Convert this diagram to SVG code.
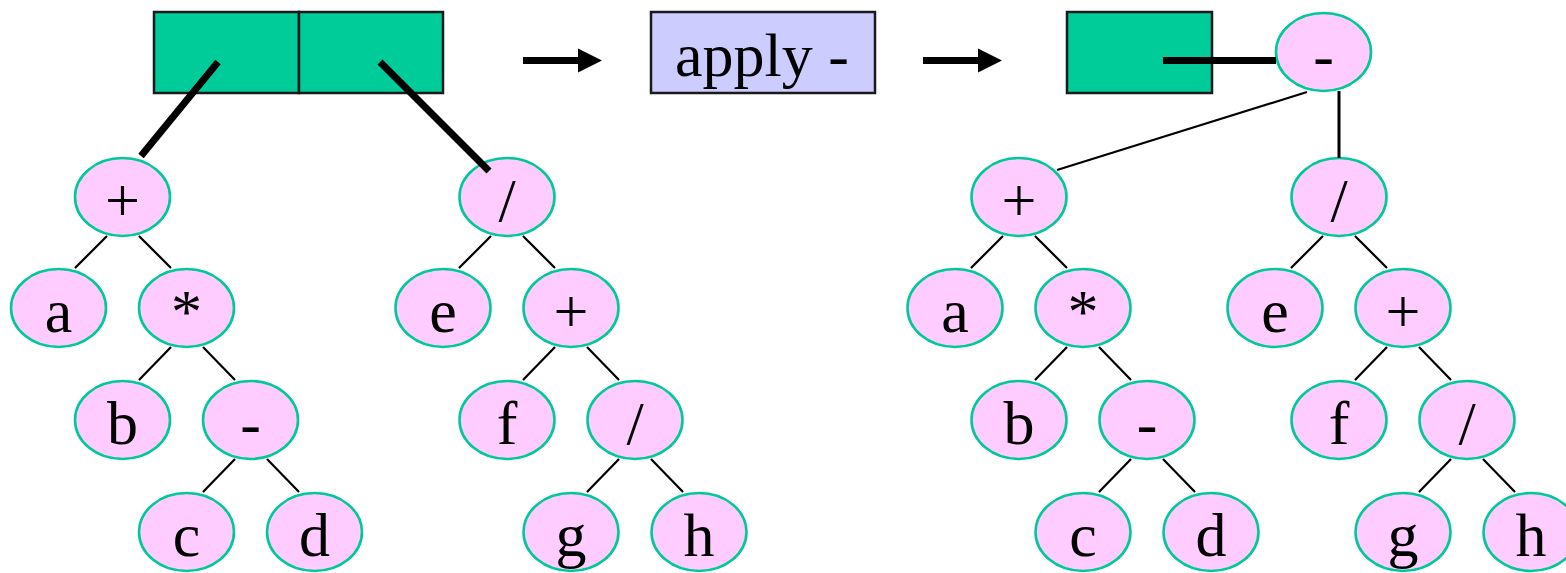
<svg xmlns="http://www.w3.org/2000/svg" xmlns:xlink="http://www.w3.org/1999/xlink" width="1566" height="573" viewBox="0 0 1566 573">
  <style>
    .cell { fill: #00cc99; stroke: #1a1a1a; stroke-width: 2.5; }
    .op { fill: #ccccff; stroke: #1a1a1a; stroke-width: 2.5; }
    .node ellipse { fill: #ffccff; stroke: #00c896; stroke-width: 2.6; }
    .node text, .label { font-family: "Liberation Serif", "Times New Roman", serif; font-size: 62px; fill: #000; text-anchor: middle; }
    .edge { stroke: #000; stroke-width: 2.2; fill: none; }
    .ptr { stroke: #000; stroke-width: 7; stroke-linecap: butt; fill: none; }
  </style>
  <defs>
    <!-- block arrow: shaft plus triangular head, origin at shaft start -->
    <g id="arrow">
      <rect x="0" y="-3.5" width="56" height="7" fill="#000"/>
      <polygon points="55,-12 79,0 55,12" fill="#000"/>
    </g>
  </defs>

  <!-- left: pair cell holding two expression trees -->
  <g id="pair-left">
    <rect class="cell" x="154" y="12" width="145" height="81"/>
    <rect class="cell" x="299" y="12" width="144" height="81"/>
  </g>

  <!-- operation box -->
  <g id="apply-box">
    <rect class="op" x="651" y="12" width="224" height="81"/>
    <text class="label" x="762" y="76">apply -</text>
  </g>

  <!-- right: single cell pointing at the combined tree -->
  <g id="cell-right">
    <rect class="cell" x="1067" y="12" width="145" height="81"/>
  </g>

  <g id="arrows">
    <use xlink:href="#arrow" x="523" y="60.5"/>
    <use xlink:href="#arrow" x="923" y="60.5"/>
  </g>

  <!-- left tree: a + b * (c - d) -->
  <g id="L1-plus" class="node"><ellipse cx="122.5" cy="197" rx="47.5" ry="39"/><text x="122.5" y="221">+</text></g>
  <g id="L1-a" class="node"><ellipse cx="58.5" cy="308" rx="47.5" ry="39"/><text x="58.5" y="332">a</text></g>
  <g id="L1-mul" class="node"><ellipse cx="186.5" cy="308" rx="47.5" ry="39"/><text x="186.5" y="332">*</text></g>
  <g id="L1-b" class="node"><ellipse cx="122.5" cy="420" rx="47.5" ry="39"/><text x="122.5" y="444">b</text></g>
  <g id="L1-minus" class="node"><ellipse cx="250.5" cy="420" rx="47.5" ry="39"/><text x="250.5" y="444">-</text></g>
  <g id="L1-c" class="node"><ellipse cx="186.5" cy="532" rx="47.5" ry="39"/><text x="186.5" y="556">c</text></g>
  <g id="L1-d" class="node"><ellipse cx="314.5" cy="532" rx="47.5" ry="39"/><text x="314.5" y="556">d</text></g>

  <!-- left tree: e / (f + g / h) -->
  <g id="L2-div" class="node"><ellipse cx="507" cy="197" rx="47.5" ry="39"/><text x="507" y="221">/</text></g>
  <g id="L2-e" class="node"><ellipse cx="443" cy="308" rx="47.5" ry="39"/><text x="443" y="332">e</text></g>
  <g id="L2-plus" class="node"><ellipse cx="571" cy="308" rx="47.5" ry="39"/><text x="571" y="332">+</text></g>
  <g id="L2-f" class="node"><ellipse cx="507" cy="420" rx="47.5" ry="39"/><text x="507" y="444">f</text></g>
  <g id="L2-div2" class="node"><ellipse cx="635" cy="420" rx="47.5" ry="39"/><text x="635" y="444">/</text></g>
  <g id="L2-g" class="node"><ellipse cx="571" cy="532" rx="47.5" ry="39"/><text x="571" y="556">g</text></g>
  <g id="L2-h" class="node"><ellipse cx="699" cy="532" rx="47.5" ry="39"/><text x="699" y="556">h</text></g>

  <!-- right: combined tree rooted at - -->
  <g id="R-root" class="node"><ellipse cx="1323.5" cy="52" rx="47.5" ry="39"/><text x="1323.5" y="76">-</text></g>

  <g id="R1-plus" class="node"><ellipse cx="1019" cy="197" rx="47.5" ry="39"/><text x="1019" y="221">+</text></g>
  <g id="R1-a" class="node"><ellipse cx="955" cy="308" rx="47.5" ry="39"/><text x="955" y="332">a</text></g>
  <g id="R1-mul" class="node"><ellipse cx="1083" cy="308" rx="47.5" ry="39"/><text x="1083" y="332">*</text></g>
  <g id="R1-b" class="node"><ellipse cx="1019" cy="420" rx="47.5" ry="39"/><text x="1019" y="444">b</text></g>
  <g id="R1-minus" class="node"><ellipse cx="1147" cy="420" rx="47.5" ry="39"/><text x="1147" y="444">-</text></g>
  <g id="R1-c" class="node"><ellipse cx="1083" cy="532" rx="47.5" ry="39"/><text x="1083" y="556">c</text></g>
  <g id="R1-d" class="node"><ellipse cx="1211" cy="532" rx="47.5" ry="39"/><text x="1211" y="556">d</text></g>

  <g id="R2-div" class="node"><ellipse cx="1339" cy="197" rx="47.5" ry="39"/><text x="1339" y="221">/</text></g>
  <g id="R2-e" class="node"><ellipse cx="1275" cy="308" rx="47.5" ry="39"/><text x="1275" y="332">e</text></g>
  <g id="R2-plus" class="node"><ellipse cx="1403" cy="308" rx="47.5" ry="39"/><text x="1403" y="332">+</text></g>
  <g id="R2-f" class="node"><ellipse cx="1339" cy="420" rx="47.5" ry="39"/><text x="1339" y="444">f</text></g>
  <g id="R2-div2" class="node"><ellipse cx="1467" cy="420" rx="47.5" ry="39"/><text x="1467" y="444">/</text></g>
  <g id="R2-g" class="node"><ellipse cx="1403" cy="532" rx="47.5" ry="39"/><text x="1403" y="556">g</text></g>
  <g id="R2-h" class="node"><ellipse cx="1531" cy="532" rx="47.5" ry="39"/><text x="1531" y="556">h</text></g>

  <g id="connectors">
    <!-- pointers out of the cells -->
    <line class="ptr" x1="218" y1="62" x2="141" y2="156"/>
    <line class="ptr" x1="380" y1="62" x2="489" y2="171"/>
    <line class="ptr" x1="1163" y1="60.5" x2="1276" y2="60.5"/>

    <!-- left tree 1 -->
    <line class="edge" x1="107" y1="236" x2="75" y2="268"/>
    <line class="edge" x1="139" y1="236" x2="171" y2="268"/>
    <line class="edge" x1="171" y1="347" x2="139" y2="380"/>
    <line class="edge" x1="203" y1="347" x2="235" y2="380"/>
    <line class="edge" x1="235" y1="459" x2="203" y2="492"/>
    <line class="edge" x1="267" y1="459" x2="299" y2="492"/>

    <!-- left tree 2 -->
    <line class="edge" x1="491" y1="236" x2="459" y2="268"/>
    <line class="edge" x1="523" y1="236" x2="555" y2="268"/>
    <line class="edge" x1="555" y1="347" x2="523" y2="380"/>
    <line class="edge" x1="587" y1="347" x2="619" y2="380"/>
    <line class="edge" x1="619" y1="459" x2="587" y2="492"/>
    <line class="edge" x1="651" y1="459" x2="683" y2="492"/>

    <!-- right root to its subtrees -->
    <line class="edge" x1="1307" y1="92" x2="1057" y2="170"/>
    <line class="edge" x1="1339" y1="91" x2="1339" y2="158" style="stroke-width:3"/>

    <!-- right subtree 1 -->
    <line class="edge" x1="1003" y1="236" x2="971" y2="268"/>
    <line class="edge" x1="1035" y1="236" x2="1067" y2="268"/>
    <line class="edge" x1="1067" y1="347" x2="1035" y2="380"/>
    <line class="edge" x1="1099" y1="347" x2="1131" y2="380"/>
    <line class="edge" x1="1131" y1="459" x2="1099" y2="492"/>
    <line class="edge" x1="1163" y1="459" x2="1195" y2="492"/>

    <!-- right subtree 2 -->
    <line class="edge" x1="1323" y1="236" x2="1291" y2="268"/>
    <line class="edge" x1="1355" y1="236" x2="1387" y2="268"/>
    <line class="edge" x1="1387" y1="347" x2="1355" y2="380"/>
    <line class="edge" x1="1419" y1="347" x2="1451" y2="380"/>
    <line class="edge" x1="1451" y1="459" x2="1419" y2="492"/>
    <line class="edge" x1="1483" y1="459" x2="1515" y2="492"/>
  </g>
</svg>
